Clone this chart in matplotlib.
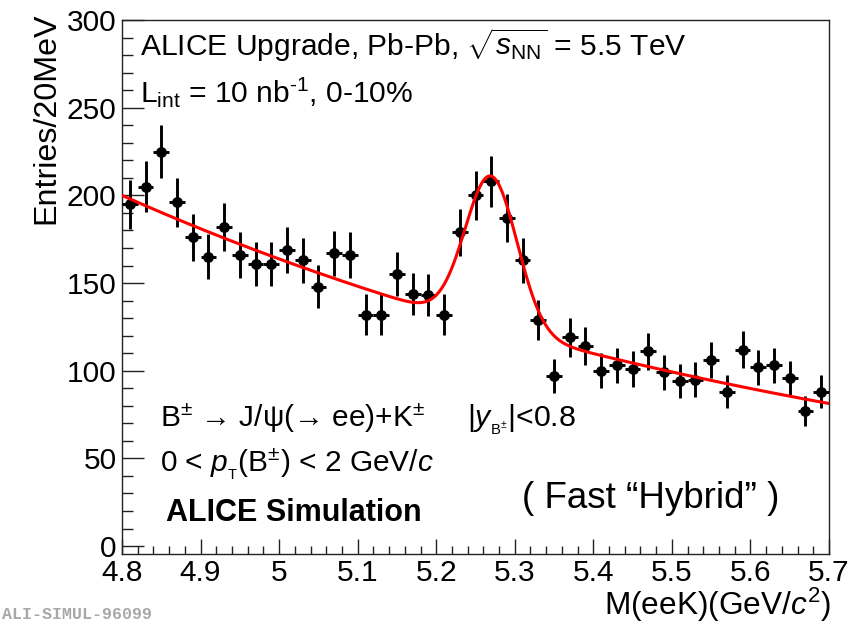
import matplotlib
import numpy as np

matplotlib.use("Agg")
import matplotlib.pyplot as plt
from matplotlib.ticker import FixedLocator, MultipleLocator, FormatStrFormatter


# invariant mass bins (GeV/c^2), 20 MeV wide
BIN_LOW = 4.80
BIN_WIDTH = 0.02
COUNTS = [
    195, 205, 225, 196, 176, 165, 182, 166, 161, 161,
    169, 163, 148, 167, 166, 132, 132, 155, 144, 143,
    132, 179, 200, 208, 187, 163, 129, 97, 119, 114,
    100, 103, 101, 111, 99, 94, 95, 106, 88, 112,
    102, 103, 96, 77, 88,
]

# fit: exponential background + gaussian peak
BKG_NORM = 200.0
BKG_SLOPE = 1.0
PEAK_AMP = 86.0
PEAK_MEAN = 5.27
PEAK_SIGMA = 0.033

X_TICKS = [4.8, 4.9, 5.0, 5.1, 5.2, 5.3, 5.4, 5.5, 5.6, 5.7]
Y_TICKS = [0, 50, 100, 150, 200, 250, 300]

W, H = 850, 627

plt.rcParams["font.family"] = ["Liberation Sans", "DejaVu Sans"]
plt.rcParams["mathtext.fontset"] = "custom"
plt.rcParams["mathtext.rm"] = "Liberation Sans"
plt.rcParams["mathtext.it"] = "Liberation Sans:italic"
plt.rcParams["mathtext.bf"] = "Liberation Sans:bold"


def fx(px):
    return px / W


def fy(py):
    return 1 - py / H


def fit_func(m):
    bkg = BKG_NORM * np.exp(-BKG_SLOPE * (m - BIN_LOW))
    sig = PEAK_AMP * np.exp(-0.5 * ((m - PEAK_MEAN) / PEAK_SIGMA) ** 2)
    return bkg + sig


counts = np.array(COUNTS, dtype=float)
centers = BIN_LOW + BIN_WIDTH * (np.arange(len(counts)) + 0.5)

fig = plt.figure(figsize=(W / 100, H / 100), dpi=100)
ax = fig.add_axes([fx(122), fy(554), fx(829) - fx(122), fy(20) - fy(554)])

ax.errorbar(
    centers,
    counts,
    xerr=BIN_WIDTH / 2,
    yerr=np.sqrt(counts),
    fmt="o",
    color="black",
    ms=6.8,
    elinewidth=2.1,
    capsize=0,
    zorder=3,
)

mm = np.linspace(4.8, 5.7, 600)
ax.plot(mm, fit_func(mm), color="#ff0000", lw=2.2, zorder=4)

ax.set_xlim(4.8, 5.7)
ax.set_ylim(-4.5, 300)
ax.xaxis.set_major_locator(FixedLocator(X_TICKS))
ax.xaxis.set_minor_locator(MultipleLocator(0.02))
ax.xaxis.set_major_formatter(FormatStrFormatter("%g"))
ax.yaxis.set_major_locator(FixedLocator(Y_TICKS))
ax.yaxis.set_minor_locator(MultipleLocator(10))

ax.tick_params(axis="both", which="both", direction="in", width=1.0, color="#222222")
ax.tick_params(axis="x", which="major", length=10.5, labelsize=21.5, pad=3.5)
ax.tick_params(axis="x", which="minor", length=5.5)
ax.tick_params(axis="y", which="major", length=15.5, labelsize=21.5, pad=4)
ax.tick_params(axis="y", which="minor", length=8)
for sp in ax.spines.values():
    sp.set_linewidth(1.0)
    sp.set_color("#222222")

# axis titles, ROOT style (aligned to the end of the axis)
fig.text(fx(831), fy(615), r"M(eeK)(GeV/$c^{2}$)", ha="right", va="baseline", fontsize=22.8)
fig.text(fx(61), fy(12), "Entries/20MeV", rotation=90, ha="right", va="top", fontsize=23.2)

# labels
fig.text(fx(140), fy(55), r"ALICE Upgrade, Pb-Pb, $\sqrt{s_{\rm NN}}$ = 5.5 TeV",
         ha="left", va="baseline", fontsize=21.6)
fig.text(fx(140), fy(102), r"L$_{\rm int}$ = 10 nb$^{\text{-1}}$, 0-10%",
         ha="left", va="baseline", fontsize=21.6)
fig.text(fx(160), fy(427), "B$^{\\pm}$ \u2192 J/\u03c8(\u2192 ee)+K$^{\\pm}$",
         ha="left", va="baseline", fontsize=21.5)
fig.text(fx(467), fy(427), r"|$y_{_{\rm B^{\pm}}}$|<0.8",
         ha="left", va="baseline", fontsize=21.8)
fig.text(fx(160), fy(472), r"0 < $p_{_{\rm T}}$(B$^{\pm}$) < 2 GeV/$c$",
         ha="left", va="baseline", fontsize=21.5)
fig.text(fx(166), fy(521), "ALICE Simulation", ha="left", va="baseline",
         fontsize=22, fontweight="bold")
fig.text(fx(522), fy(508), "( Fast \u201cHybrid\u201d )", ha="left", va="baseline",
         fontsize=26.5)

fig.text(fx(2), fy(619), "ALI-SIMUL-96099", ha="left", va="baseline",
         fontsize=12, color="#a8a8a8", family="Liberation Mono", fontweight="bold")

fig.savefig("out.png", dpi=100, facecolor="white")
